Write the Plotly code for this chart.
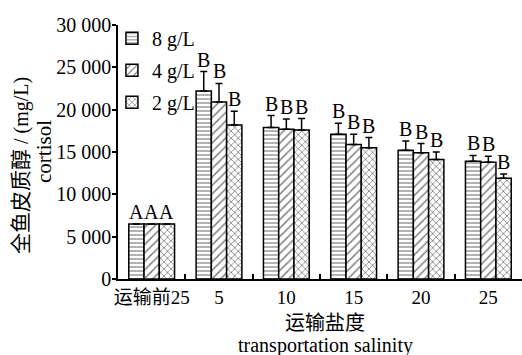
import plotly.graph_objects as go

# ---- data ----
categories = ["运输前25", "5", "10", "15", "20", "25"]
cat_labels = ['<span style="font-size:19px">运输前</span>25', "5", "10", "15", "20", "25"]
series_names = ["8 g/L", "4 g/L", "2 g/L"]
g8 = [6500, 22200, 17900, 17100, 15200, 13900]
g8_err = [0, 2300, 1400, 1300, 1100, 700]
g4 = [6500, 20900, 17700, 15900, 14900, 13800]
g4_err = [0, 2200, 1200, 1200, 1100, 700]
g2 = [6500, 18200, 17600, 15500, 14100, 11900]
g2_err = [0, 1600, 1350, 1200, 900, 500]
letters = ["A", "B", "B", "B", "B", "B"]
y_tickvals = [0, 5000, 10000, 15000, 20000, 25000, 30000]
y_ticktext = ["0", "5 000", "10 000", "15 000", "20 000", "25 000", "30 000"]

FONT = "Liberation Serif, Times New Roman, Noto Sans CJK SC, serif"
values = [g8, g4, g2]
errors = [g8_err, g4_err, g2_err]
patterns = [("-", 4, 0.3), ("/", 6, 0.25), ("x", 5, 0.3)]
BARGAP = 0.32

fig = go.Figure()
for k, (name, v, e, (shp, sz, sol)) in enumerate(zip(series_names, values, errors, patterns)):
    fig.add_trace(go.Bar(
        x=categories, y=v, name=name, legendgroup=name,
        marker=dict(color="white", line=dict(color="black", width=1.5),
                    pattern=dict(shape=shp, size=sz, solidity=sol, fgcolor="black", bgcolor="white")),
        error_y=dict(type="data", array=e, arrayminus=[0] * len(e), symmetric=False,
                     color="black", thickness=1.5, width=3.5),
    ))

annotations = []
bw = (1 - BARGAP) / 3
for k, (v, e) in enumerate(zip(values, errors)):
    for j in range(len(categories)):
        annotations.append(dict(
            x=j + (k - 1) * bw, y=v[j] + e[j], xref="x", yref="y",
            text=letters[j], showarrow=False, yanchor="bottom", yshift=-1,
            font=dict(family=FONT, size=20, color="black")))

# axis titles
annotations += [
    dict(x=0, y=0.5, xref="paper", yref="paper", xshift=-97, yshift=-14, showarrow=False, textangle=-90,
         xanchor="center", yanchor="middle",
         text='<span style="font-size:21px">全鱼皮质醇</span> / (mg/L)',
         font=dict(family=FONT, size=20, color="black")),
    dict(x=0, y=0.5, xref="paper", yref="paper", xshift=-74, showarrow=False, textangle=-90,
         xanchor="center", yanchor="middle", text="cortisol",
         font=dict(family=FONT, size=21, color="black")),
    dict(x=0.5, y=0, xref="paper", yref="paper", xshift=5, yshift=-44, showarrow=False,
         xanchor="center", yanchor="middle", text="运输盐度",
         font=dict(family=FONT, size=20, color="black")),
    dict(x=0.5, y=0, xref="paper", yref="paper", xshift=5, yshift=-66, showarrow=False,
         xanchor="center", yanchor="middle", text="transportation salinity",
         font=dict(family=FONT, size=20, color="black")),
]

fig.update_layout(
    width=522, height=355,
    margin=dict(l=118, r=0, t=25, b=76),
    paper_bgcolor="white", plot_bgcolor="white",
    barmode="group", bargap=BARGAP, bargroupgap=0,
    font=dict(family=FONT, size=20, color="black"),
    showlegend=True,
    legend=dict(x=-0.015, y=1.025, xanchor="left", yanchor="top", bgcolor="rgba(0,0,0,0)",
                tracegroupgap=3, font=dict(family=FONT, size=20, color="black")),
    annotations=annotations,
    xaxis=dict(type="category", tickmode="array", tickvals=categories, ticktext=cat_labels,
               tickangle=0, automargin=False,
               tickson="boundaries", ticks="inside", ticklen=5, tickcolor="black", tickwidth=1.5,
               showline=True, linecolor="black", linewidth=1.5, showgrid=False, zeroline=False,
               range=[-0.5, 5.5], tickfont=dict(family=FONT, size=19, color="black")),
    yaxis=dict(range=[0, 30000], tickmode="array", tickvals=y_tickvals, ticktext=y_ticktext,
               automargin=False, ticklabelstandoff=-3,
               ticks="outside", ticklen=4, tickcolor="black", tickwidth=1.5,
               showline=True, linecolor="black", linewidth=1.5, showgrid=False, zeroline=False,
               tickfont=dict(family=FONT, size=20, color="black")),
)

fig.write_html("out.html", config={"displayModeBar": False},
               post_script="document.body.style.margin='0';")
